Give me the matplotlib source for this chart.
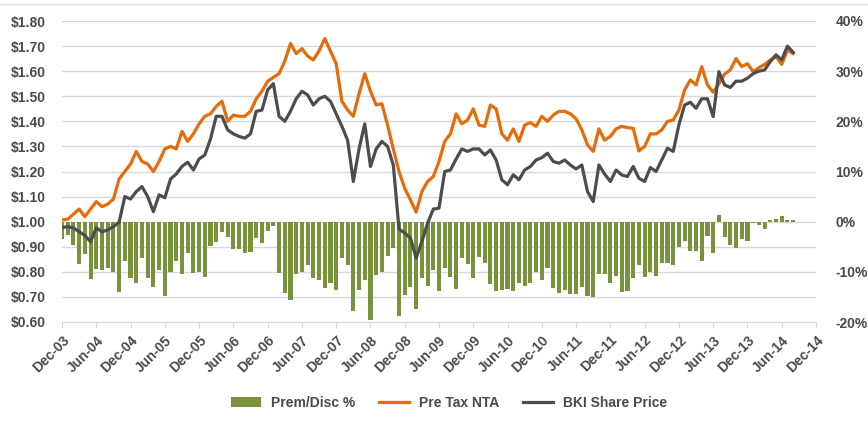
import matplotlib
matplotlib.use('Agg')
import matplotlib.pyplot as plt
import numpy as np
from matplotlib.ticker import FuncFormatter
from matplotlib.lines import Line2D

# Monthly data, Dec-03 .. Aug-14
pre_tax_nta = [
    1.007, 1.01, 1.03, 1.05, 1.02, 1.05, 1.08, 1.06, 1.07, 1.09,
    1.17, 1.20, 1.23, 1.28, 1.24, 1.23, 1.20, 1.24, 1.29, 1.30,
    1.29, 1.36, 1.32, 1.35, 1.39, 1.42, 1.43, 1.46, 1.48, 1.40,
    1.425, 1.42, 1.42, 1.44, 1.49, 1.52, 1.56, 1.575, 1.59, 1.64,
    1.71, 1.67, 1.69, 1.66, 1.645, 1.68, 1.73, 1.68, 1.63, 1.48,
    1.445, 1.42, 1.51, 1.59, 1.52, 1.465, 1.47, 1.385, 1.29, 1.20,
    1.133, 1.087, 1.038, 1.12, 1.16, 1.18, 1.24, 1.32, 1.35, 1.43,
    1.39, 1.405, 1.45, 1.385, 1.38, 1.465, 1.45, 1.35, 1.325, 1.37,
    1.32, 1.385, 1.395, 1.38, 1.42, 1.40, 1.425, 1.44, 1.44, 1.43,
    1.41, 1.366, 1.306, 1.28, 1.37, 1.325, 1.34, 1.37, 1.38, 1.375,
    1.372, 1.282, 1.30, 1.35, 1.35, 1.366, 1.40, 1.405, 1.445, 1.525,
    1.565, 1.545, 1.618, 1.545, 1.516, 1.55, 1.588, 1.605, 1.65, 1.618,
    1.63, 1.598, 1.614, 1.627, 1.645, 1.658, 1.627, 1.684, 1.67,
]

bki_share_price = [
    0.977, 0.98, 0.975, 0.96, 0.945, 0.92, 0.975, 0.96, 0.967, 0.98,
    0.998, 1.10, 1.09, 1.12, 1.14, 1.10, 1.04, 1.107, 1.095, 1.17,
    1.19, 1.22, 1.237, 1.206, 1.25, 1.266, 1.33, 1.42, 1.42, 1.366,
    1.35, 1.34, 1.333, 1.35, 1.44, 1.445, 1.525, 1.55, 1.42, 1.40,
    1.44, 1.49, 1.52, 1.505, 1.465, 1.49, 1.50, 1.48, 1.43, 1.38,
    1.325, 1.16, 1.29, 1.39, 1.22, 1.29, 1.32, 1.30, 1.226, 0.97,
    0.955, 0.935, 0.855, 0.92, 0.994, 1.05, 1.054, 1.20, 1.206, 1.25,
    1.29, 1.28, 1.29, 1.29, 1.266, 1.286, 1.246, 1.167, 1.147, 1.187,
    1.167, 1.206, 1.22, 1.246, 1.255, 1.273, 1.24, 1.233, 1.246, 1.226,
    1.21, 1.226, 1.12, 1.08, 1.226, 1.19, 1.16, 1.206, 1.186, 1.18,
    1.22, 1.173, 1.16, 1.216, 1.20, 1.246, 1.293, 1.28, 1.386, 1.465,
    1.476, 1.452, 1.49, 1.49, 1.419, 1.598, 1.545, 1.535, 1.56, 1.56,
    1.572, 1.59, 1.60, 1.605, 1.638, 1.665, 1.645, 1.70, 1.675,
]

prem_disc_pct = [
    -3.5, -2.7, -4.6, -8.5, -6.5, -11.5, -9.4, -9.6, -9.2, -10.0,
    -14.1, -7.8, -11.2, -12.3, -7.2, -11.3, -13.1, -9.6, -14.9, -10.0,
    -7.8, -10.5, -6.3, -10.3, -10.0, -11.0, -4.8, -4.1, -2.1, -3.0,
    -5.4, -5.4, -6.3, -6.0, -3.2, -4.3, -1.9, -0.8, -10.3, -14.3,
    -15.6, -10.5, -10.0, -8.6, -11.3, -11.6, -13.3, -12.3, -13.6, -7.3,
    -8.6, -17.9, -13.6, -11.6, -19.6, -10.6, -10.0, -6.8, -5.3, -18.9,
    -14.6, -13.1, -17.4, -11.3, -12.9, -9.6, -13.8, -9.3, -11.0, -13.4,
    -7.3, -8.5, -11.3, -7.0, -8.3, -12.5, -13.9, -13.6, -13.4, -13.9,
    -12.3, -12.9, -12.3, -10.0, -11.6, -9.2, -13.3, -14.3, -13.6, -14.5,
    -14.5, -13.1, -14.9, -15.0, -10.4, -10.4, -12.2, -10.9, -14.0, -13.9,
    -11.2, -8.6, -11.1, -10.0, -10.8, -8.2, -8.2, -8.6, -5.1, -3.9,
    -5.9, -5.9, -7.8, -2.9, -6.2, 1.3, -3.1, -4.7, -5.2, -3.5,
    -3.9, -0.3, -0.7, -1.5, 0.3, 0.6, 1.2, 0.4, 0.3,
]

tick_labels = ['Dec-03', 'Jun-04', 'Dec-04', 'Jun-05', 'Dec-05', 'Jun-06',
               'Dec-06', 'Jun-07', 'Dec-07', 'Jun-08', 'Dec-08', 'Jun-09',
               'Dec-09', 'Jun-10', 'Dec-10', 'Jun-11', 'Dec-11', 'Jun-12',
               'Dec-12', 'Jun-13', 'Dec-13', 'Jun-14', 'Dec-14']

plt.rcParams['font.family'] = ['Liberation Sans', 'DejaVu Sans']
plt.rcParams['font.weight'] = 'bold'
plt.rcParams['font.size'] = 10
TXT = '#4a4a4a'
GRID = '#d9d9d9'

W, H = 868, 421
fig = plt.figure(figsize=(W / 100, H / 100), dpi=100)
ax = fig.add_axes([62 / W, 1 - 322 / H, (816 - 62) / W, (322 - 21) / H])
ax2 = ax.twinx()
ax.set_zorder(ax2.get_zorder() + 1)
ax.patch.set_visible(False)

x = np.arange(len(pre_tax_nta))

bars = ax2.bar(x, prem_disc_pct, width=0.72, color='#77933C', zorder=2,
               label='Prem/Disc %')
ax2.set_ylim(-20, 40)
ax2.set_yticks(range(-20, 41, 10))
ax2.set_yticks(range(-20, 41, 5), minor=True)
ax2.grid(axis='y', which='both', color=GRID, lw=1)
ax2.set_axisbelow(True)
ax2.tick_params(axis='y', which='both', length=0, pad=14, colors=TXT)
ax2.yaxis.set_major_formatter(FuncFormatter(lambda v, p: f'{v:.0f}%'))

l1, = ax.plot(x, pre_tax_nta, color='#E46C0A', lw=2.3, label='Pre Tax NTA',
              solid_joinstyle='round')
l2, = ax.plot(x, bki_share_price, color='#4D4D4D', lw=2.3,
              label='BKI Share Price', solid_joinstyle='round')
ax.set_ylim(0.6, 1.8)
ax.set_yticks(np.arange(0.6, 1.801, 0.1))
ax.yaxis.set_major_formatter(FuncFormatter(lambda v, p: f'${v:.2f}'))
ax.tick_params(axis='y', length=0, pad=12, colors=TXT)

ax.set_xlim(0, 132)
ax.set_xticks(range(0, 133, 6))
ax.set_xticklabels(tick_labels, rotation=45, ha='right',
                   rotation_mode='anchor', color=TXT)
ax.tick_params(axis='x', length=4, color=GRID, pad=4)

for a in (ax, ax2):
    for s in a.spines.values():
        s.set_visible(False)
ax.spines['bottom'].set_visible(True)
ax.spines['bottom'].set_color(GRID)

fig.legend(handles=[bars, l1, l2],
           labels=['Prem/Disc %', 'Pre Tax NTA', 'BKI Share Price'],
           loc='center', bbox_to_anchor=(449 / W, 1 - 403 / H), ncol=3,
           frameon=False, handlelength=2.2, handletextpad=0.7,
           columnspacing=1.7, labelcolor=TXT)

fig.add_artist(Line2D([0, 1], [1 - 4 / H] * 2, color=GRID, lw=1,
                      transform=fig.transFigure))

fig.savefig('out.png', dpi=100, facecolor='white')
